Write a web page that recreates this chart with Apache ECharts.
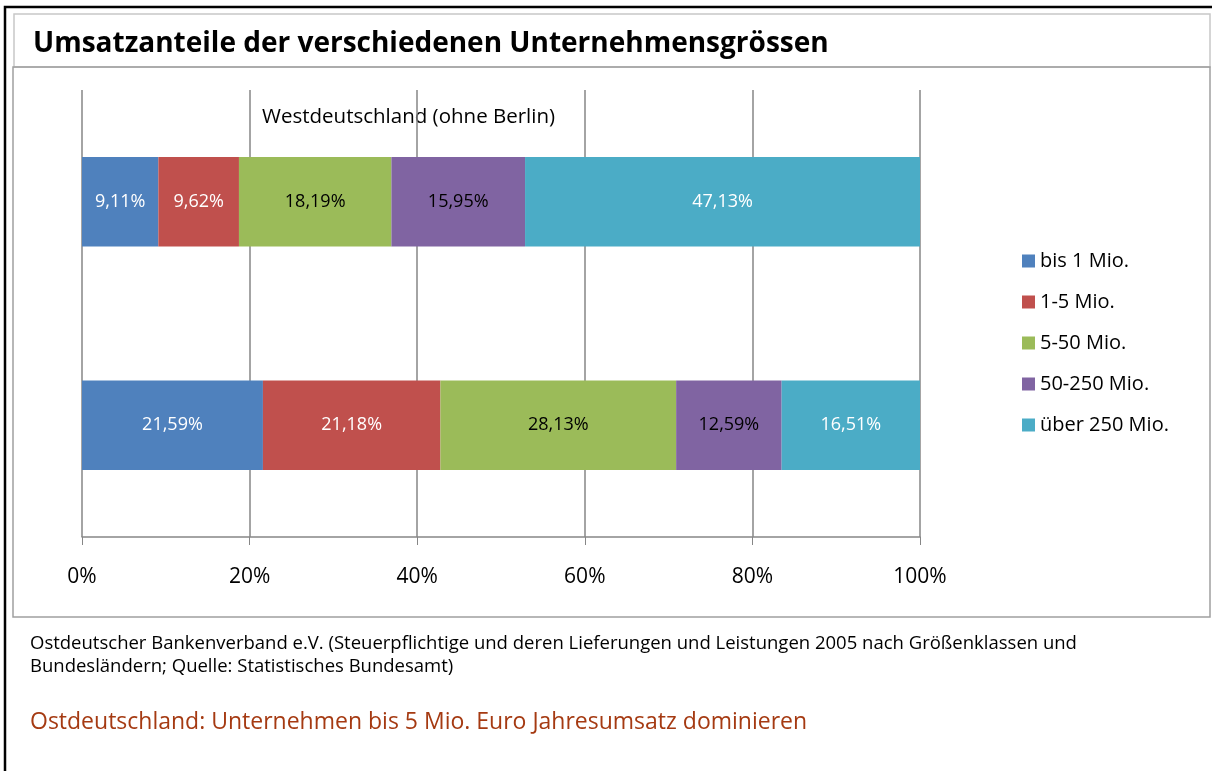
<!DOCTYPE html>
<html>
<head>
<meta charset="utf-8">
<script src="https://cdn.jsdelivr.net/npm/echarts@6/dist/echarts.min.js"></script>
<style>
html,body{margin:0;padding:0;background:#fff;}
#main{width:1212px;height:771px;}
</style>
</head>
<body>
<div id="main"></div>
<script>
const categories = ['Ostdeutschland', 'Westdeutschland (ohne Berlin)'];
const seriesNames = ['bis 1 Mio.', '1-5 Mio.', '5-50 Mio.', '50-250 Mio.', 'über 250 Mio.'];
const bis1 = [21.59, 9.11];
const m1to5 = [21.18, 9.62];
const m5to50 = [28.13, 18.19];
const m50to250 = [12.59, 15.95];
const ueber250 = [16.51, 47.13];
const tickLabels = ['0%', '20%', '40%', '60%', '80%', '100%'];

const seriesValues = [bis1, m1to5, m5to50, m50to250, ueber250];
const colors = ['#4F81BD', '#C0504D', '#9BBB59', '#8064A2', '#4BACC6'];
const labelColors = ['#ffffff', '#ffffff', '#000000', '#000000', '#ffffff'];
const FONT = 'Open Sans, Liberation Sans, sans-serif';

const chart = echarts.init(document.getElementById('main'));
chart.setOption({
  animation: false,
  grid: {left: 82, right: 292, top: 90, bottom: 234},
  legend: {
    orient: 'vertical', left: 1017, top: 246,
    itemWidth: 13, itemHeight: 13, itemGap: 21,
    icon: 'rect',
    textStyle: {fontFamily: FONT, fontSize: 20, color: '#000'},
    data: seriesNames
  },
  xAxis: {
    type: 'value', min: 0, max: 100, interval: 20,
    axisLine: {show: true, lineStyle: {color: '#868686', width: 1.5}},
    axisTick: {show: true, inside: false, length: 8, lineStyle: {color: '#868686'}},
    splitLine: {show: true, lineStyle: {color: '#868686', width: 1.5}},
    axisLabel: {
      margin: 30, fontFamily: FONT, fontSize: 21, color: '#000',
      formatter: function (v) { return tickLabels[Math.round(v / 20)]; }
    }
  },
  yAxis: {
    type: 'category', data: categories,
    axisLine: {show: false}, axisTick: {show: false}, axisLabel: {show: false}
  },
  series: seriesNames.map(function (name, i) {
    return {
      name: name, type: 'bar', stack: 'total', barCategoryGap: '60%',
      data: seriesValues[i],
      itemStyle: {color: colors[i]},
      label: {
        show: true, position: 'inside', color: labelColors[i],
        fontFamily: FONT, fontSize: 18,
        formatter: function (p) { return p.value.toFixed(2).replace('.', ',') + '%'; }
      }
    };
  }),
  graphic: [
    {type: 'rect', shape: {x: 5, y: 7, width: 1220, height: 780}, style: {fill: 'none', stroke: '#000', lineWidth: 2.5}, z: 10},
    {type: 'rect', shape: {x: 14, y: 14, width: 1196, height: 53}, style: {fill: 'none', stroke: '#c8c8c8', lineWidth: 1.5}},
    {type: 'rect', shape: {x: 13, y: 67, width: 1197, height: 550}, style: {fill: 'none', stroke: '#a0a0a0', lineWidth: 1.5}},
    {type: 'text', left: 33, top: 30, style: {text: 'Umsatzanteile der verschiedenen Unternehmensgrössen', font: 'bold 28px ' + FONT, fill: '#000'}},
    {type: 'text', left: 262, top: 107, style: {text: 'Westdeutschland (ohne Berlin)', font: '20.5px ' + FONT, fill: '#000'}},
    {type: 'text', left: 30, top: 634, style: {text: 'Ostdeutscher Bankenverband e.V. (Steuerpflichtige und deren Lieferungen und Leistungen 2005 nach Größenklassen und', font: '18.5px ' + FONT, fill: '#000'}},
    {type: 'text', left: 30, top: 657, style: {text: 'Bundesländern; Quelle: Statistisches Bundesamt)', font: '18.5px ' + FONT, fill: '#000'}},
    {type: 'text', left: 30, top: 711, style: {text: 'Ostdeutschland: Unternehmen bis 5 Mio. Euro Jahresumsatz dominieren', font: '23px ' + FONT, fill: '#A53A12'}}
  ]
});
</script>
</body>
</html>
